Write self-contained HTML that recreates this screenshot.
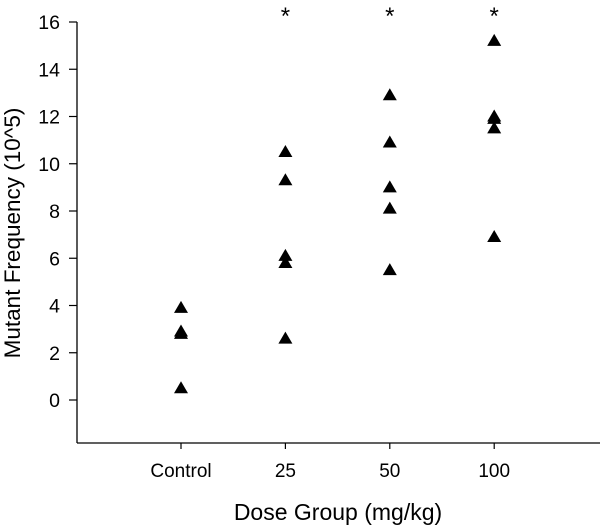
<!DOCTYPE html>
<html><head><meta charset="utf-8"><style>
body{margin:0;background:#fff;}
svg{display:block;font-family:"Liberation Sans",Arial,sans-serif;}
</style></head><body>
<svg id="chart" width="600" height="531"></svg>
<script>
const categories=["Control","25","50","100"];
const controlValues=[3.9,2.9,2.8,0.5];
const dose25Values=[10.5,9.3,6.1,5.8,2.6];
const dose50Values=[12.9,10.9,9.0,8.1,5.5];
const dose100Values=[15.2,12.0,11.9,11.5,6.9];
const significant=[false,true,true,true];
const yTicks=[0,2,4,6,8,10,12,14,16];
const seriesByGroup=[controlValues,dose25Values,dose50Values,dose100Values];

const NS="http://www.w3.org/2000/svg";
const svg=document.getElementById('chart');
function yScale(v){return 400-(v)*23.625;}
function xScale(i){return 181+i*104.4;}
function mk(tag,attrs,parent){const e=document.createElementNS(NS,tag);for(const k in attrs)e.setAttribute(k,attrs[k]);(parent||svg).appendChild(e);return e;}

const yAxis=mk('line',{x1:77,y1:22,x2:77,y2:443,stroke:'#000','stroke-width':1.3});


const xAxis=mk('line',{x1:77,y1:443,x2:600,y2:443,stroke:'#000','stroke-width':1.3});



yTicks.forEach(t=>{
  const y=yScale(t);
  const tk=mk('line',{x1:69,y1:y,x2:77,y2:y,stroke:'#000','stroke-width':1.2});
  
  
  const lb=mk('text',{x:60,y:y+7,'text-anchor':'end','font-size':19.5});
  lb.textContent=t;
  
  
});
categories.forEach((c,i)=>{
  const x=xScale(i);
  const tk=mk('line',{x1:x,y1:443,x2:x,y2:449,stroke:'#000','stroke-width':1.2});
  
  
  const lb=mk('text',{x:x,y:477,'text-anchor':'middle','font-size':19});
  lb.textContent=c;
  
  
  seriesByGroup[i].forEach(v=>{
    const y=yScale(v);
    const p=mk('polygon',{points:`${x},${y-7} ${x-7},${y+5} ${x+7},${y+5}`,fill:'#000'});
    
    
  });
  if(significant[i]){
    const s=mk('text',{x:x,y:24,'text-anchor':'middle','font-size':24});
    s.textContent='*';
    
    
  }
});
const xt=mk('text',{x:338,y:520,'text-anchor':'middle','font-size':23});
xt.textContent='Dose Group (mg/kg)';


const yt=mk('text',{x:0,y:0,'text-anchor':'middle','font-size':22.5,transform:'translate(20,233) rotate(-90)'});
yt.textContent='Mutant Frequency (10^5)';


</script>
</body></html>
